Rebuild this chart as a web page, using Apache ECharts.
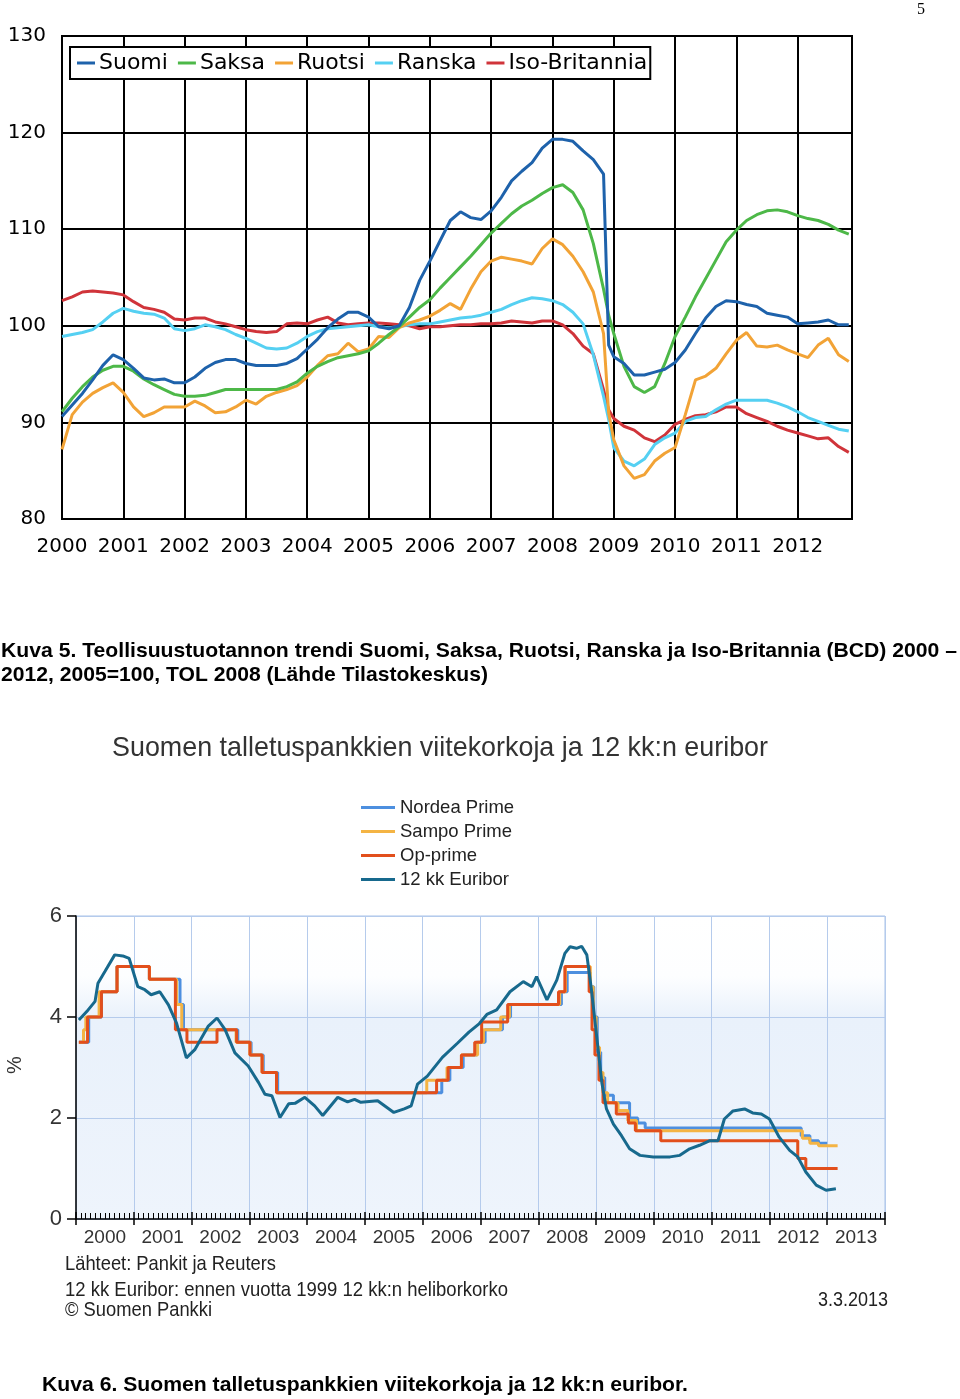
<!DOCTYPE html>
<html><head><meta charset="utf-8">
<script src="https://cdn.jsdelivr.net/npm/echarts@6/dist/echarts.min.js"></script>
<style>html,body{margin:0;padding:0;background:#fff}#c{width:960px;height:1399px}</style>
</head><body><div id="c"></div>
<script>
// ---------- Chart 1: industrial production trend (2005=100) ----------
const prodDates = ['2000-01','2000-03','2000-05','2000-07','2000-09','2000-11',
'2001-01','2001-03','2001-05','2001-07','2001-09','2001-11',
'2002-01','2002-03','2002-05','2002-07','2002-09','2002-11',
'2003-01','2003-03','2003-05','2003-07','2003-09','2003-11',
'2004-01','2004-03','2004-05','2004-07','2004-09','2004-11',
'2005-01','2005-03','2005-05','2005-07','2005-09','2005-11',
'2006-01','2006-03','2006-05','2006-07','2006-09','2006-11',
'2007-01','2007-03','2007-05','2007-07','2007-09','2007-11',
'2008-01','2008-03','2008-05','2008-07','2008-09','2008-11','2008-12',
'2009-01','2009-03','2009-05','2009-07','2009-09','2009-11',
'2010-01','2010-03','2010-05','2010-07','2010-09','2010-11',
'2011-01','2011-03','2011-05','2011-07','2011-09','2011-11',
'2012-01','2012-03','2012-05','2012-07','2012-09','2012-11'];

const suomi = [90.6,91.8,93.0,94.4,95.9,97.0, 96.5,95.6,94.6,94.4,94.5,94.1, 94.1,94.7,95.6,96.2,96.5,96.5,
 96.1,95.9,95.9,95.9,96.1,96.6, 97.6,98.6,99.8,100.7,101.4,101.4, 100.9,99.9,99.7,100.0,101.9,104.7,
 106.7,108.8,110.9,111.8,111.2,111.0, 111.9,113.3,115.0,116.0,116.9,118.4, 119.3,119.3,119.1,118.1,117.2,115.7,98.0,
 96.8,96.1,94.9,94.9,95.2,95.5, 96.2,97.5,99.2,100.8,102.0,102.6, 102.5,102.2,102.0,101.3,101.1,100.9, 100.2,100.3,100.4,100.6,100.1,100.1];
const saksa = [91.1,92.5,93.7,94.7,95.4,95.8, 95.8,95.3,94.5,93.9,93.4,92.9, 92.7,92.7,92.8,93.1,93.4,93.4,
 93.4,93.4,93.4,93.4,93.7,94.2, 95.1,95.8,96.3,96.7,96.9,97.1, 97.4,98.2,99.1,99.9,100.9,101.9,
 102.7,103.9,105.0,106.1,107.2,108.4, 109.6,110.6,111.6,112.4,113.0,113.7, 114.3,114.6,113.8,112.0,108.5,103.8,101.1,
 99.2,95.8,93.7,93.1,93.7,96.1, 98.9,100.9,103.0,104.9,106.8,108.7, 109.9,110.9,111.5,111.9,112.0,111.8, 111.4,111.1,110.9,110.5,109.9,109.5];
const ruotsi = [87.2,90.8,92.1,93.0,93.6,94.1, 93.1,91.6,90.6,91.0,91.6,91.6, 91.6,92.2,91.7,91.0,91.1,91.6,
 92.3,91.9,92.7,93.1,93.4,93.8, 94.7,95.9,96.9,97.1,98.2,97.3, 97.6,98.9,98.8,99.8,100.3,100.6,
 101.0,101.6,102.3,101.7,103.8,105.6, 106.7,107.1,106.9,106.7,106.4,108.0, 109.0,108.4,107.2,105.6,103.5,99.2,91.0,
 88.2,85.5,84.2,84.6,86.0,86.8, 87.4,90.8,94.4,94.8,95.6,97.1, 98.5,99.3,97.9,97.8,98.0,97.5, 97.1,96.7,98.0,98.7,97.0,96.3];
const ranska = [98.9,99.1,99.3,99.6,100.4,101.3, 101.8,101.5,101.3,101.2,100.8,99.7, 99.5,99.7,100.1,99.9,99.6,99.1,
 98.7,98.2,97.7,97.6,97.7,98.2, 98.9,99.4,99.7,99.8,99.9,100.0, 100.1,99.9,99.8,99.9,100.1,100.2,
 100.2,100.4,100.6,100.8,100.9,101.1, 101.4,101.7,102.2,102.6,102.9,102.8, 102.6,102.2,101.4,100.2,97.0,92.7,90.3,
 87.4,86.0,85.5,86.2,87.7,88.4, 88.9,90.1,90.5,90.6,91.3,91.9, 92.3,92.3,92.3,92.3,92.0,91.6, 91.1,90.5,90.1,89.7,89.3,89.1];
const isoBritannia = [102.6,103.0,103.5,103.6,103.5,103.4, 103.2,102.5,101.9,101.7,101.4,100.7, 100.6,100.8,100.8,100.4,100.2,99.9,
 99.6,99.4,99.3,99.4,100.2,100.3, 100.2,100.6,100.9,100.3,100.1,100.2, 100.3,100.3,100.2,100.1,100.0,99.7,
 99.9,99.9,100.0,100.1,100.1,100.2, 100.2,100.3,100.5,100.4,100.3,100.5, 100.5,100.1,99.2,97.9,97.1,93.4,91.3,
 90.4,89.6,89.2,88.4,88.0,88.7, 89.8,90.3,90.7,90.8,91.1,91.6, 91.6,90.9,90.5,90.1,89.6,89.2, 88.9,88.6,88.3,88.4,87.5,86.9];
const prodNames = ['Suomi','Saksa','Ruotsi','Ranska','Iso-Britannia'];
const prodColors = ['#1e62ab','#4db848','#f2a336','#55d0f2','#d0343a'];

// ---------- Chart 2: reference rates and 12-month Euribor (%) ----------
const rateYearLabels = ['2000','2001','2002','2003','2004','2005','2006','2007','2008','2009','2010','2011','2012','2013'];
// Step series: date (decimal year) from which the rate applies
const nordeaT = [2000.05,2000.22,2000.44,2000.71,2001.27,2001.80,2001.86,2002.80,2003.03,2003.24,2003.49,2006.33,2006.47,2006.70,2006.93,2007.08,2007.38,2007.52,2008.40,2008.50,2008.90,2008.96,2009.02,2009.08,2009.15,2009.30,2009.58,2009.72,2009.85,2012.55,2012.70,2012.85,2013.00];
const nordeaV = [3.5,4.0,4.5,5.0,4.75,4.25,3.75,3.5,3.25,2.9,2.5,2.75,3.0,3.25,3.5,3.75,4.0,4.25,4.5,4.88,4.6,4.0,3.3,2.8,2.45,2.3,2.0,1.9,1.8,1.65,1.55,1.5,1.5];
const sampoT = [2000.05,2000.13,2000.17,2000.40,2000.71,2001.27,2001.74,2001.83,2002.77,2003.01,2003.22,2003.47,2006.07,2006.42,2006.67,2006.95,2007.05,2007.35,2007.50,2008.37,2008.47,2008.90,2008.95,2009.00,2009.06,2009.12,2009.20,2009.38,2009.55,2009.70,2012.57,2012.70,2012.85,2013.18];
const sampoV = [3.5,3.75,4.0,4.5,5.0,4.75,4.25,3.75,3.5,3.25,2.9,2.5,2.75,3.0,3.25,3.5,3.75,4.0,4.25,4.5,5.0,4.6,4.0,3.4,2.9,2.5,2.3,2.15,1.95,1.75,1.6,1.5,1.45,1.45];
const opT = [2000.05,2000.20,2000.44,2000.71,2001.27,2001.72,2001.92,2002.44,2002.78,2003.01,2003.22,2003.47,2006.24,2006.44,2006.67,2006.90,2007.02,2007.47,2008.35,2008.46,2008.88,2008.93,2008.98,2009.05,2009.12,2009.35,2009.56,2009.68,2010.12,2012.49,2012.63,2013.18];
const opV = [3.5,4.0,4.5,5.0,4.75,3.75,3.5,3.75,3.5,3.25,2.9,2.5,2.75,3.0,3.25,3.5,3.9,4.25,4.5,5.0,4.5,3.75,3.25,2.75,2.3,2.08,1.9,1.75,1.55,1.2,1.0,1.0];
const euriborT = [2000.05,2000.21,2000.33,2000.38,2000.50,2000.67,2000.81,2000.92,2001.07,2001.19,2001.30,2001.45,2001.60,2001.74,2001.91,
 2002.06,2002.29,2002.44,2002.58,2002.75,2002.98,2003.16,2003.27,2003.39,2003.53,2003.68,2003.79,2003.96,2004.13,2004.27,2004.53,2004.70,2004.82,2004.93,
 2005.22,2005.50,2005.68,2005.80,2005.91,2006.08,2006.34,2006.60,2006.80,2006.98,2007.11,2007.28,2007.51,2007.74,2007.89,2007.97,
 2008.15,2008.32,2008.46,2008.55,2008.66,2008.75,2008.84,2008.92,2009.01,2009.10,2009.18,2009.30,2009.44,2009.58,2009.76,2009.99,
 2010.28,2010.45,2010.62,2010.79,2010.97,2011.11,2011.22,2011.37,2011.57,2011.71,2011.86,2012.00,2012.17,2012.35,2012.49,2012.63,2012.81,2012.98,2013.15];
const euriborV = [3.94,4.14,4.31,4.67,4.90,5.23,5.21,5.16,4.60,4.54,4.44,4.50,4.24,3.88,3.19,
 3.36,3.82,3.98,3.75,3.29,3.03,2.70,2.47,2.44,2.01,2.28,2.29,2.41,2.24,2.05,2.41,2.32,2.37,2.31,
 2.34,2.11,2.18,2.24,2.67,2.83,3.20,3.48,3.70,3.87,4.05,4.14,4.50,4.70,4.60,4.80,
 4.34,4.73,5.26,5.39,5.36,5.40,5.23,4.54,3.62,2.70,2.18,1.88,1.65,1.39,1.26,1.23,
 1.23,1.26,1.39,1.46,1.55,1.55,1.98,2.14,2.18,2.10,2.08,1.98,1.62,1.36,1.23,0.93,0.67,0.57,0.60];
const rateNames = ['Nordea Prime','Sampo Prime','Op-prime','12 kk Euribor'];
const rateColors = ['#4d8fdf','#f4b444','#e24f1c','#17698d'];

// ---------- build ----------
const toYear = s => { const p = s.split('-').map(Number); return p[0] + (p[1] - 1) / 12; };
const prodX = prodDates.map(toYear);
const pair = (xs, ys) => xs.map((x, i) => [x, ys[i]]);

const measureCtx = document.createElement('canvas').getContext('2d');
function fitScale(text, font, width) {
  measureCtx.font = font;
  return width / measureCtx.measureText(text).width;
}
function txt(text, x, y, font, fill, width, align, extra) {
  const el = {
    type: 'text', x: x, y: y, z: 100,
    style: { text: text, font: font, fill: fill, align: align || 'left', verticalAlign: 'middle' }
  };
  if (width) el.scaleX = fitScale(text, font, width);
  return Object.assign(el, extra || {});
}

const TOPF = 'DejaVu Sans';
const SANS = '"Liberation Sans"';
const chart = echarts.init(document.getElementById('c'), null, { renderer: 'canvas' });

const prodSeries = [suomi, saksa, ruotsi, ranska, isoBritannia].map((arr, i) => ({
  name: prodNames[i], type: 'line', xAxisIndex: 0, yAxisIndex: 0,
  data: pair(prodX, arr), showSymbol: false, symbol: 'none',
  lineStyle: { color: prodColors[i], width: 3 }, itemStyle: { color: prodColors[i] }, z: 5 + (4 - i)
}));
const rateSeries = [[nordeaT, nordeaV], [sampoT, sampoV], [opT, opV]].map((p, i) => ({
  name: rateNames[i], type: 'line', xAxisIndex: 2, yAxisIndex: 1, step: 'end',
  data: pair(p[0], p[1]), showSymbol: false, symbol: 'none',
  lineStyle: { color: rateColors[i], width: 3 }, itemStyle: { color: rateColors[i] }, z: 5 + i
}));
rateSeries.push({
  name: rateNames[3], type: 'line', xAxisIndex: 2, yAxisIndex: 1,
  data: pair(euriborT, euriborV), showSymbol: false, symbol: 'none',
  lineStyle: { color: rateColors[3], width: 3 }, itemStyle: { color: rateColors[3] }, z: 9
});

const option = {
  animation: false,
  backgroundColor: '#ffffff',
  grid: [
    { left: 62, top: 36, width: 790, height: 483, show: true, borderColor: '#000', borderWidth: 2, backgroundColor: '#fff' },
    { left: 76, top: 916, width: 809, height: 303, show: true, borderColor: '#a9c3e8', borderWidth: 1,
      backgroundColor: { type: 'linear', x: 0, y: 0, x2: 0, y2: 1, colorStops: [
        { offset: 0, color: '#ffffff' }, { offset: 0.2, color: '#fdfeff' },
        { offset: 0.34, color: '#e9f1fb' }, { offset: 1, color: '#eef4fc' } ] } }
  ],
  legend: [
    { data: prodNames, left: 70, top: 47, orient: 'horizontal', icon: 'rect', itemWidth: 18, itemHeight: 3, itemGap: 10,
      backgroundColor: '#fff', borderColor: '#000', borderWidth: 2, padding: [5, 3, 5, 7],
      textStyle: { fontFamily: TOPF, fontSize: 22, color: '#000', padding: [0, 0, 0, -1] } },
    { data: rateNames, left: 356, top: 793, orient: 'vertical', icon: 'rect', itemWidth: 34, itemHeight: 3, itemGap: 5,
      textStyle: { fontFamily: 'Liberation Sans', fontSize: 18.5, color: '#222', padding: [0, 0, 0, 0] } }
  ],
  xAxis: [
    { gridIndex: 0, type: 'value', min: 2000, max: 2012.886, interval: 1,
      axisLine: { show: false }, axisTick: { show: false },
      splitLine: { show: true, lineStyle: { color: '#000', width: 2 } },
      axisLabel: { fontFamily: TOPF, fontSize: 20, color: '#000', margin: 18, showMaxLabel: false,
        formatter: v => (Math.abs(v - Math.round(v)) < 1e-6 ? String(Math.round(v)) : '') } },
    { gridIndex: 1, type: 'category', data: rateYearLabels, boundaryGap: true, position: 'bottom',
      axisLine: { show: true, lineStyle: { color: '#000', width: 1.5 } },
      axisTick: { show: true, length: 6, lineStyle: { color: '#000', width: 1.5 } },
      splitLine: { show: true, lineStyle: { color: '#b5cbec', width: 1 } },
      axisLabel: { interval: 0, fontFamily: 'Liberation Sans', fontSize: 19, color: '#333', margin: 9 } },
    { gridIndex: 1, type: 'value', min: 2000, max: 2014, interval: 1, position: 'bottom',
      axisLine: { show: false }, axisLabel: { show: false }, splitLine: { show: false },
      axisTick: { show: true, inside: true, length: 7, lineStyle: { color: '#000', width: 1.5 } },
      minorTick: { show: true, splitNumber: 12, length: 6, lineStyle: { color: '#000', width: 1 } } }
  ],
  yAxis: [
    { gridIndex: 0, type: 'value', min: 80, max: 130, interval: 10,
      axisLine: { show: false }, axisTick: { show: false },
      splitLine: { show: true, lineStyle: { color: '#000', width: 2 } },
      axisLabel: { fontFamily: TOPF, fontSize: 20, color: '#000', margin: 16, padding: [4, 0, 0, 0] } },
    { gridIndex: 1, type: 'value', min: 0, max: 6, interval: 2,
      axisLine: { show: true, lineStyle: { color: '#000', width: 1.5 } },
      axisTick: { show: true, length: 9, lineStyle: { color: '#000', width: 1.5 } },
      splitLine: { show: true, lineStyle: { color: '#b5cbec', width: 1 } },
      axisLabel: { fontFamily: 'Liberation Sans', fontSize: 22, color: '#333', margin: 14 } }
  ],
  series: prodSeries.concat(rateSeries),
  graphic: [
    txt('5', 917, 10, '16px "Liberation Serif"', '#000'),
    txt('Kuva 5. Teollisuustuotannon trendi Suomi, Saksa, Ruotsi, Ranska ja Iso-Britannia (BCD) 2000 \u2013',
        1, 651, 'bold 21px ' + SANS, '#000', 956),
    txt('2012, 2005=100, TOL 2008 (Lähde Tilastokeskus)', 1, 675, 'bold 21px ' + SANS, '#000', 487),
    txt('Suomen talletuspankkien viitekorkoja ja 12 kk:n euribor', 112, 748, '28px ' + SANS, '#333', 656),
    txt('%', 15, 1065, '20px ' + SANS, '#333', null, 'center', { rotation: Math.PI / 2 }),
    txt('Lähteet: Pankit ja Reuters', 65, 1264, '21px ' + SANS, '#222', 211),
    txt('12 kk Euribor: ennen vuotta 1999 12 kk:n heliborkorko', 65, 1290, '21px ' + SANS, '#222', 443),
    txt('\u00a9 Suomen Pankki', 65, 1310, '21px ' + SANS, '#222', 147),
    txt('3.3.2013', 888, 1300, '21px ' + SANS, '#222', 70, 'right'),
    txt('Kuva 6. Suomen talletuspankkien viitekorkoja ja 12 kk:n euribor.', 42, 1385, 'bold 21px ' + SANS, '#000', 646)
  ]
};
chart.setOption(option);
</script></body></html>
